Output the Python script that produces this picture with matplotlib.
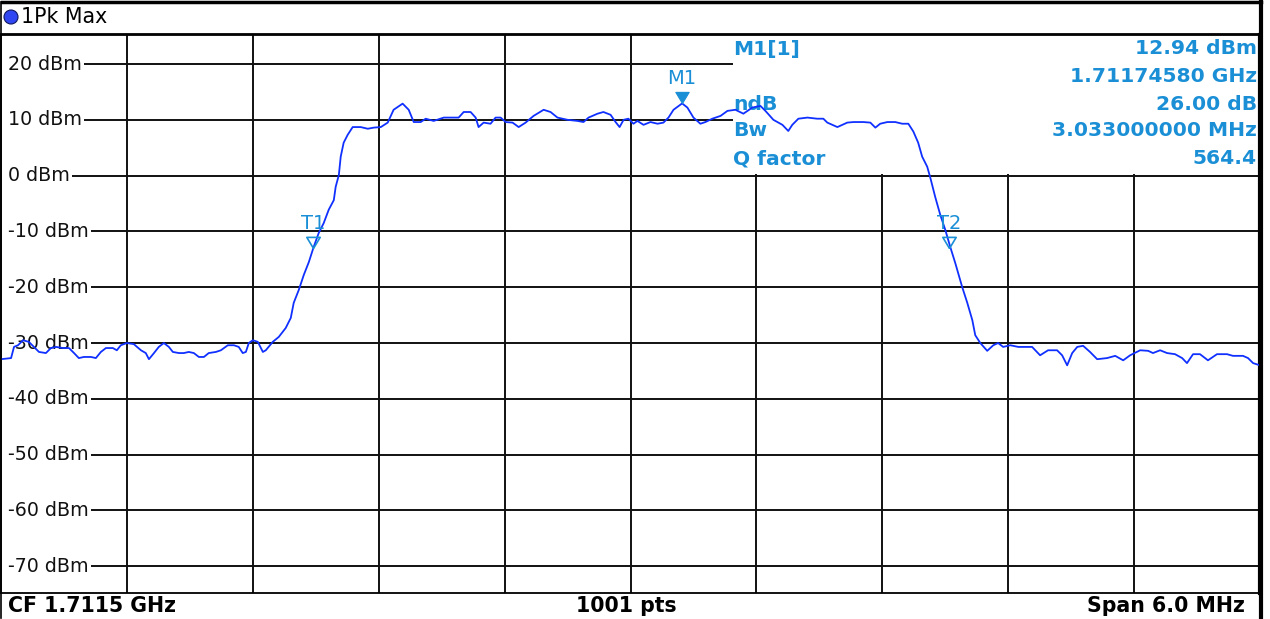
import matplotlib.pyplot as plt
from matplotlib.lines import Line2D
from matplotlib.patches import Rectangle, Circle
from matplotlib.transforms import IdentityTransform

# Sweep settings
CF_GHZ = 1.7115
SPAN_MHZ = 6.0
N_PTS = 1001

# Trace (offset from CF in MHz, level in dBm)
freq_mhz = [
    -3.000, -2.952, -2.938, -2.919, -2.895, -2.867, -2.843, -2.819, -2.786, -2.762,
    -2.738, -2.705, -2.676, -2.652, -2.629, -2.605, -2.571, -2.548, -2.524, -2.500,
    -2.467, -2.448, -2.429, -2.400, -2.367, -2.333, -2.310, -2.295, -2.271, -2.248,
    -2.224, -2.200, -2.181, -2.152, -2.129, -2.105, -2.081, -2.057, -2.033, -2.010,
    -1.976, -1.952, -1.919, -1.890, -1.867, -1.848, -1.833, -1.819, -1.800, -1.776,
    -1.752, -1.738, -1.705, -1.676, -1.643, -1.619, -1.605, -1.581, -1.557, -1.533,
    -1.510, -1.486, -1.462, -1.438, -1.414, -1.405, -1.390, -1.381, -1.367, -1.348,
    -1.324, -1.286, -1.252, -1.224, -1.190, -1.157, -1.129, -1.086, -1.057, -1.033,
    -1.000, -0.976, -0.938, -0.890, -0.848, -0.819, -0.795, -0.762, -0.738, -0.724,
    -0.700, -0.667, -0.643, -0.619, -0.595, -0.562, -0.533, -0.500, -0.462, -0.414,
    -0.381, -0.348, -0.300, -0.252, -0.224, -0.200, -0.157, -0.129, -0.095, -0.071,
    -0.052, -0.033, -0.010, 0.014, 0.033, 0.062, 0.095, 0.129, 0.157, 0.181,
    0.205, 0.246, 0.271, 0.300, 0.333, 0.357, 0.390, 0.429, 0.462, 0.500,
    0.538, 0.581, 0.619, 0.643, 0.681, 0.724, 0.752, 0.771, 0.800, 0.843,
    0.890, 0.919, 0.938, 0.986, 1.033, 1.062, 1.110, 1.143, 1.167, 1.190,
    1.224, 1.262, 1.295, 1.324, 1.348, 1.371, 1.390, 1.414, 1.429, 1.452,
    1.476, 1.500, 1.524, 1.548, 1.581, 1.605, 1.629, 1.643, 1.667, 1.700,
    1.729, 1.752, 1.776, 1.810, 1.848, 1.914, 1.952, 1.990, 2.033, 2.057,
    2.081, 2.105, 2.129, 2.157, 2.190, 2.224, 2.271, 2.310, 2.348, 2.381,
    2.429, 2.467, 2.490, 2.524, 2.557, 2.595, 2.629, 2.652, 2.681, 2.714,
    2.752, 2.795, 2.843, 2.871, 2.919, 2.943, 2.967, 3.000,
]
level_dbm = [
    -32.9, -32.7, -30.7, -30.4, -29.5, -29.8, -30.7, -31.6, -31.8, -30.9,
    -30.7, -30.9, -30.9, -31.8, -32.7, -32.5, -32.5, -32.7, -31.6, -30.9,
    -30.9, -31.3, -30.4, -30.0, -30.2, -31.3, -31.8, -32.9, -31.8, -30.7,
    -30.0, -30.7, -31.6, -31.8, -31.8, -31.6, -31.8, -32.5, -32.5, -31.8,
    -31.6, -31.3, -30.4, -30.4, -30.7, -31.8, -31.6, -30.0, -29.5, -29.8,
    -31.6, -31.3, -29.8, -28.9, -27.3, -25.5, -22.8, -20.5, -17.8, -15.5,
    -12.8, -10.3, -8.5, -6.1, -4.4, -2.0, 0.1, 3.4, 5.9, 7.3,
    8.7, 8.7, 8.4, 8.6, 8.7, 9.5, 11.8, 12.9, 11.8, 9.6,
    9.6, 10.2, 9.8, 10.4, 10.4, 10.4, 11.4, 11.4, 10.4, 8.7,
    9.5, 9.3, 10.4, 10.4, 9.6, 9.5, 8.7, 9.5, 10.7, 11.8,
    11.4, 10.4, 10.0, 9.8, 9.6, 10.4, 11.1, 11.4, 10.9, 9.6,
    8.7, 10.0, 10.2, 9.3, 9.8, 9.1, 9.6, 9.3, 9.5, 10.4,
    11.8, 12.94, 12.2, 10.4, 9.3, 9.6, 10.2, 10.7, 11.6, 11.8,
    11.1, 12.2, 12.5, 11.6, 10.0, 9.1, 8.0, 9.1, 10.2, 10.4,
    10.2, 10.2, 9.5, 8.7, 9.5, 9.6, 9.6, 9.5, 8.6, 9.3,
    9.6, 9.6, 9.3, 9.3, 7.9, 5.9, 3.4, 1.6, -0.4, -3.8,
    -7.0, -9.7, -12.8, -15.7, -20.0, -22.8, -25.9, -28.6, -30.0, -31.4,
    -30.4, -30.0, -30.7, -30.4, -30.7, -30.7, -32.2, -31.3, -31.3, -32.2,
    -34.0, -31.8, -30.7, -30.5, -31.6, -32.9, -32.7, -32.3, -33.1, -32.2,
    -31.3, -31.4, -31.8, -31.3, -31.8, -32.0, -32.7, -33.6, -32.0, -32.0,
    -33.1, -32.0, -32.0, -32.3, -32.3, -32.7, -33.6, -34.0,
]

x_grid = [-2.4, -1.8, -1.2, -0.6, 0, 0.6, 1.2, 1.8, 2.4]
y_ticks = [20, 10, 0, -10, -20, -30, -40, -50, -60, -70]

# Markers
m1_freq = 0.2458      # 1.71174580 GHz
m1_level = 12.94
ndb = 26.00
bw_mhz = 3.033
t1_freq = -1.5143
t2_freq = t1_freq + bw_mhz
t_level = m1_level - ndb

info_labels = ["M1[1]", "", "ndB", "Bw", "Q factor"]
info_values = ["12.94 dBm", "1.71174580 GHz", "26.00 dB", "3.033000000 MHz", "564.4"]

W, H = 1270, 619
BLUE_TXT = "#1a8fd6"
TRACE = "#1030ff"
GRID = "#111111"

fig = plt.figure(figsize=(W / 100, H / 100), dpi=100)
fig.patch.set_facecolor("white")

# plot area in pixels: x 1..1260, y 35..593
ax = fig.add_axes([1 / W, (H - 593) / H, 1259 / W, 558 / H])
ax.set_xlim(-SPAN_MHZ / 2, SPAN_MHZ / 2)
ax.set_ylim(-74.8, 25.2)
ax.set_xticks([])
ax.set_yticks([])
for side in ["left", "top", "bottom"]:
    ax.spines[side].set_linewidth(1.3)
ax.spines["right"].set_linewidth(3)

for xv in x_grid:
    ax.axvline(xv, color=GRID, linewidth=1.4, zorder=1)

# y labels sit inside the plot; the grid line starts right after the label
renderer = fig.canvas.get_renderer()
for v in y_ticks:
    t = ax.text(7 / 1259, v, f"{v} dBm", transform=ax.get_yaxis_transform(),
                ha="left", va="center", fontsize=13.7, color=GRID, zorder=2)
    x_end = t.get_window_extent(renderer).x1 + 2
    x_start = ax.transData.inverted().transform((x_end, 0))[0]
    ax.hlines(v, x_start, SPAN_MHZ / 2, color=GRID, linewidth=1.4, zorder=1)

# marker info table hides the grid in the upper right
ax.add_patch(Rectangle((0.490, 0.3), 2.6, 30, facecolor="white", edgecolor="none", zorder=1.5))
rows_y = [49, 77, 104, 131, 159]
for lab, val, py in zip(info_labels, info_values, rows_y):
    ya = (593 - py) / 558
    ax.text((733 - 1) / 1259, ya, lab, transform=ax.transAxes, ha="left", va="center",
            fontsize=14.6, fontweight="bold", color=BLUE_TXT, zorder=2)
    ax.text((1257 - 1) / 1259, ya, val, transform=ax.transAxes, ha="right", va="center",
            fontsize=14.6, fontweight="bold", color=BLUE_TXT, zorder=2)

# trace
ax.plot(freq_mhz, level_dbm, color=TRACE, linewidth=1.3, zorder=3)

# marker symbols, apex on the trace point
tri = [(0, 0), (-0.6, 1), (0.6, 1), (0, 0)]
ax.plot([m1_freq], [m1_level], marker=tri, markersize=16, color=BLUE_TXT,
        markeredgewidth=0.8, zorder=4)
ax.annotate("M1", (m1_freq, m1_level), xytext=(0, 11), textcoords="offset points",
            ha="center", va="bottom", fontsize=14, color=BLUE_TXT, zorder=4)
for name, f in [("T1", t1_freq), ("T2", t2_freq)]:
    ax.plot([f], [t_level], marker=tri, markersize=16, markerfacecolor="none",
            markeredgecolor=BLUE_TXT, markeredgewidth=1.2, zorder=4)
    ax.annotate(name, (f, t_level), xytext=(0, 11), textcoords="offset points",
                ha="center", va="bottom", fontsize=14, color=BLUE_TXT, zorder=4)

# outer frame and header
def fig_line(x0, y0, x1, y1, lw):
    fig.add_artist(Line2D([x0 / W, x1 / W], [1 - y0 / H, 1 - y1 / H],
                          color="black", linewidth=lw))

fig_line(2, 1.5, 1261, 1.5, 2.5)
fig_line(1, 2, 1, 618, 1.2)
fig_line(1261, 1, 1261, 618, 3)
fig_line(1, 34, 1261, 34, 1.3)

fig.add_artist(Circle((11, H - 17), 7, transform=IdentityTransform(),
                      facecolor="#2f46f2", edgecolor="#101860", linewidth=0.8))
fig.text(21 / W, 1 - 17 / H, "1Pk Max", ha="left", va="center", fontsize=14.8, color="black")

# bottom status line
fig.text(8 / W, 1 - 606 / H, "CF 1.7115 GHz", ha="left", va="center",
         fontsize=14.8, fontweight="bold")
fig.text(626 / W, 1 - 606 / H, f"{N_PTS} pts", ha="center", va="center",
         fontsize=14.8, fontweight="bold")
fig.text(1245 / W, 1 - 606 / H, f"Span {SPAN_MHZ:.1f} MHz", ha="right", va="center",
         fontsize=14.8, fontweight="bold")

fig.savefig("out.png", dpi=100)
plt.close(fig)
